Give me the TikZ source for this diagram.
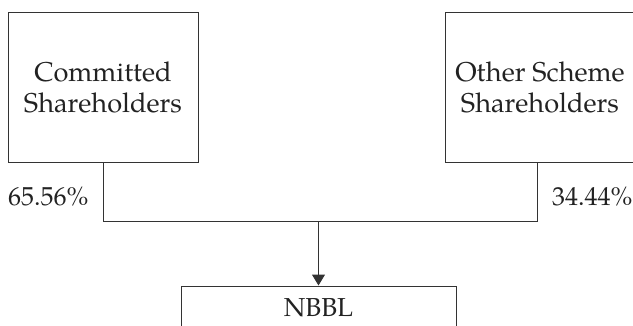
\documentclass[tikz,border=0pt]{standalone}
\usepackage{fontspec}
\setmainfont{TeX Gyre Pagella}
\usetikzlibrary{arrows.meta}
\definecolor{linec}{HTML}{333333}
\definecolor{textc}{HTML}{222222}
\tikzset{
  box/.style={draw=linec, line width=1pt, align=center, inner sep=0pt, text=textc,
    font=\fontsize{26}{31}\selectfont},
  big/.style={font=\fontsize{27.2}{31}\selectfont},
  pct/.style={inner sep=0pt, text=textc, font=\fontsize{26}{31}\selectfont},
  conn/.style={draw=linec, line width=1pt},
  arr/.style={conn, -{Triangle[width=13pt,length=11pt]}}
}
\begin{document}
\begin{tikzpicture}[x=1pt,y=-1pt]
\useasboundingbox (0,0) rectangle (633,325);
\node[box, big, minimum width=190pt, minimum height=150pt] (cs) at (103,87) {Committed\\Shareholders};
\node[box, big, minimum width=190pt, minimum height=150pt] (os) at (540,87) {Other Scheme\\Shareholders};
\node[box, minimum width=275pt, minimum height=44pt] (nb) at (318.5,308) {NBBL};
\coordinate (osd) at (537,162);
\coordinate (jl) at (103,221);
\coordinate (jr) at (537,221);
\coordinate (jm) at (318.5,221);
\draw[conn] (cs.south) -- (jl) -- (jr) -- (osd);
\draw[arr] (jm) -- (nb.north);
\node[pct, anchor=base west] (pl) at (8,205) {65.56\%};
\node[pct, anchor=base west] (pr) at (552,205) {34.44\%};
\end{tikzpicture}
\end{document}
